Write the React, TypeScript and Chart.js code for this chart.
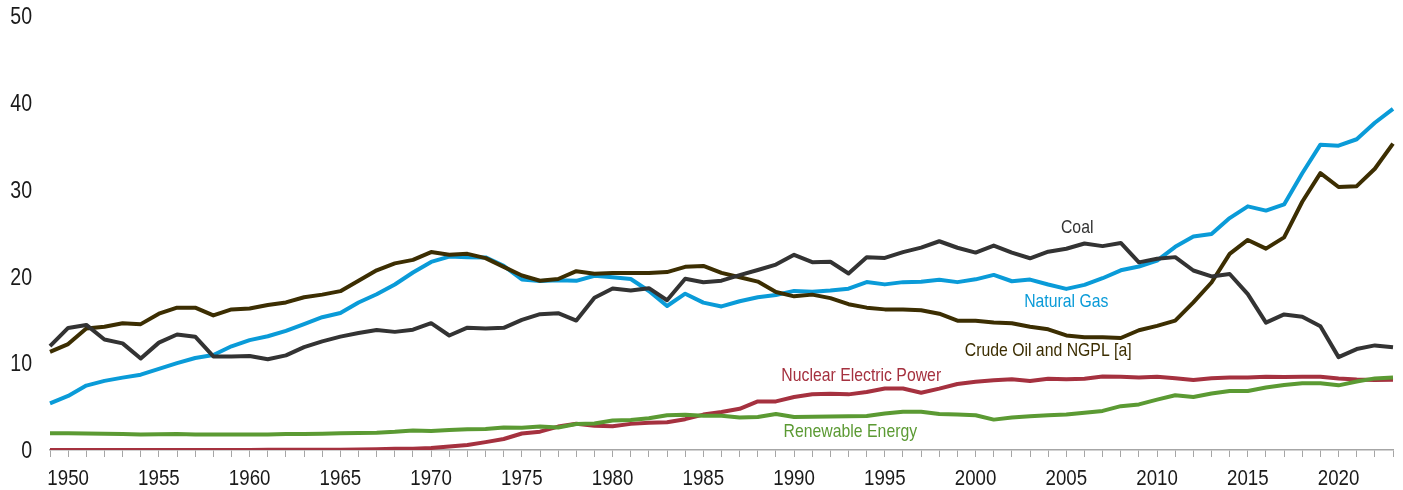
import React, { useEffect, useRef } from 'react';
import { Chart, registerables } from 'chart.js';

Chart.register(...registerables);

const years = [
  1949, 1950, 1951, 1952, 1953, 1954, 1955, 1956, 1957, 1958,
  1959, 1960, 1961, 1962, 1963, 1964, 1965, 1966, 1967, 1968,
  1969, 1970, 1971, 1972, 1973, 1974, 1975, 1976, 1977, 1978,
  1979, 1980, 1981, 1982, 1983, 1984, 1985, 1986, 1987, 1988,
  1989, 1990, 1991, 1992, 1993, 1994, 1995, 1996, 1997, 1998,
  1999, 2000, 2001, 2002, 2003, 2004, 2005, 2006, 2007, 2008,
  2009, 2010, 2011, 2012, 2013, 2014, 2015, 2016, 2017, 2018,
  2019, 2020, 2021, 2022, 2023,
];

const coal = [
  11.97, 14.06, 14.41, 12.73, 12.28, 10.54, 12.37, 13.31, 13.06, 10.78,
  10.78, 10.82, 10.45, 10.9, 11.85, 12.52, 13.06, 13.47, 13.83, 13.61,
  13.86, 14.61, 13.19, 14.09, 13.99, 14.07, 14.99, 15.65, 15.76, 14.91,
  17.54, 18.6, 18.38, 18.64, 17.25, 19.72, 19.33, 19.51, 20.14, 20.74,
  21.36, 22.49, 21.64, 21.69, 20.34, 22.2, 22.13, 22.79, 23.31, 24.05,
  23.3, 22.74, 23.55, 22.73, 22.09, 22.85, 23.19, 23.79, 23.49, 23.85,
  21.62, 22.04, 22.22, 20.68, 20.0, 20.28, 17.95, 14.67, 15.62, 15.36,
  14.26, 10.7, 11.63, 12.05, 11.83,
];

const naturalGas = [
  5.38, 6.23, 7.42, 7.96, 8.34, 8.68, 9.34, 10.0, 10.6, 10.94,
  11.95, 12.66, 13.1, 13.72, 14.51, 15.3, 15.78, 16.99, 17.94, 19.07,
  20.45, 21.67, 22.28, 22.21, 22.19, 21.21, 19.64, 19.48, 19.57, 19.49,
  20.08, 19.91, 19.7, 18.32, 16.59, 18.01, 16.98, 16.54, 17.14, 17.6,
  17.85, 18.33, 18.23, 18.38, 18.58, 19.35, 19.08, 19.34, 19.39, 19.61,
  19.34, 19.66, 20.17, 19.44, 19.63, 19.07, 18.56, 19.02, 19.79, 20.7,
  21.14, 21.81, 23.41, 24.59, 24.89, 26.72, 28.07, 27.58, 28.29, 31.88,
  35.18, 35.06, 35.8, 37.7, 39.3,
];

const crudeOilNgpl = [
  11.3, 12.2, 14.0, 14.2, 14.6, 14.5, 15.7, 16.4, 16.4, 15.5,
  16.2, 16.3, 16.7, 17.0, 17.6, 17.9, 18.3, 19.5, 20.7, 21.5,
  21.9, 22.8, 22.5, 22.6, 22.1, 21.1, 20.1, 19.5, 19.7, 20.6,
  20.3, 20.4, 20.4, 20.4, 20.5, 21.1, 21.2, 20.4, 19.9, 19.4,
  18.2, 17.7, 17.9, 17.5, 16.8, 16.4, 16.2, 16.2, 16.1, 15.7,
  14.9, 14.9, 14.7, 14.6, 14.2, 13.9, 13.2, 13.0, 13.0, 12.9,
  13.8, 14.3, 14.9, 17.0, 19.3, 22.6, 24.2, 23.2, 24.5, 28.6,
  31.9, 30.3, 30.4, 32.4, 35.3,
];

const nuclear = [
  0, 0, 0, 0, 0, 0, 0, 0, 0, 0,
  0, 0.01, 0.02, 0.03, 0.04, 0.04, 0.04, 0.06, 0.09, 0.14,
  0.15, 0.24, 0.41, 0.58, 0.91, 1.27, 1.9, 2.11, 2.7, 3.02,
  2.78, 2.74, 3.01, 3.13, 3.2, 3.55, 4.08, 4.38, 4.75, 5.59,
  5.6, 6.1, 6.42, 6.48, 6.41, 6.69, 7.08, 7.09, 6.6, 7.07,
  7.61, 7.86, 8.03, 8.14, 7.96, 8.22, 8.16, 8.21, 8.46, 8.43,
  8.36, 8.43, 8.27, 8.06, 8.27, 8.34, 8.34, 8.43, 8.42, 8.44,
  8.45, 8.25, 8.13, 8.06, 8.09,
];

const renewable = [
  1.92, 1.92, 1.9, 1.88, 1.84, 1.8, 1.82, 1.85, 1.8, 1.8,
  1.8, 1.8, 1.8, 1.85, 1.85, 1.88, 1.92, 1.95, 2.0, 2.1,
  2.25, 2.2, 2.3, 2.4, 2.42, 2.6, 2.55, 2.7, 2.6, 3.0,
  3.05, 3.4, 3.45, 3.65, 4.0, 4.05, 3.95, 3.95, 3.75, 3.8,
  4.15, 3.8, 3.82, 3.85, 3.9, 3.92, 4.2, 4.4, 4.4, 4.15,
  4.1, 4.0, 3.5, 3.75, 3.9, 4.0, 4.1, 4.3, 4.5, 5.05,
  5.25, 5.8, 6.3, 6.1, 6.5, 6.8, 6.8, 7.2, 7.5, 7.7,
  7.7, 7.45, 7.9, 8.25, 8.35,
];

const yTicks = [0, 10, 20, 30, 40, 50];

const COLORS = {
  coal: '#333333',
  gas: '#0a9bd8',
  oil: '#3c2e02',
  nuclear: '#a5313f',
  renewable: '#5b9a33',
};

// Series name labels, placed at (year, value) through the chart's scales
const seriesTextLabels = [
  { text: 'Coal', year: 2005.6, value: 25.6, color: COLORS.coal },
  { text: 'Natural Gas', year: 2005.0, value: 17.1, color: COLORS.gas },
  { text: 'Crude Oil and NGPL [a]', year: 2004.0, value: 11.4, color: COLORS.oil },
  { text: 'Nuclear Electric Power', year: 1993.7, value: 8.5, color: COLORS.nuclear },
  { text: 'Renewable Energy', year: 1993.1, value: 2.1, color: COLORS.renewable },
];

const FONT = '"Liberation Sans", Arial, Helvetica, sans-serif';
const CONDENSE = 0.85;
const TICK_COLOR = '#1a1a1a';

function drawCondensed(ctx: CanvasRenderingContext2D, text: string, x: number, y: number, align: CanvasTextAlign) {
  ctx.save();
  ctx.translate(x, y);
  ctx.scale(CONDENSE, 1);
  ctx.textAlign = align;
  ctx.fillText(text, 0, 0);
  ctx.restore();
}

const textPlugin = {
  id: 'condensedText',
  afterDraw(chart: any) {
    const { ctx, scales, chartArea } = chart;
    const x = scales.x;
    const y = scales.y;
    ctx.save();
    // tick labels
    ctx.fillStyle = TICK_COLOR;
    ctx.textBaseline = 'alphabetic';
    ctx.font = `22px ${FONT}`;
    x.ticks.forEach((t: any, i: number) => {
      const yr = years[t.value];
      if (yr % 5 === 0) drawCondensed(ctx, String(yr), x.getPixelForTick(i), chartArea.bottom + 35, 'center');
    });
    ctx.font = `23px ${FONT}`;
    y.ticks.forEach((t: any) => {
      drawCondensed(ctx, String(t.value), chartArea.left - 18, y.getPixelForValue(t.value) + 8.2, 'right');
    });
    // series labels
    ctx.font = `18.6px ${FONT}`;
    ctx.textBaseline = 'middle';
    for (const l of seriesTextLabels) {
      ctx.fillStyle = l.color;
      drawCondensed(ctx, l.text, x.getPixelForValue(l.year - years[0]), y.getPixelForValue(l.value), 'center');
    }
    ctx.restore();
  },
};

export default function App() {
  const canvasRef = useRef<HTMLCanvasElement | null>(null);

  useEffect(() => {
    const canvas = canvasRef.current;
    if (!canvas) return;
    const mk = (label: string, data: number[], color: string) => ({
      label,
      data,
      borderColor: color,
      backgroundColor: color,
      borderWidth: 4,
      pointRadius: 0,
      tension: 0,
      fill: false,
      borderJoinStyle: 'round' as const,
      borderCapStyle: 'butt' as const,
    });
    const chart = new Chart(canvas, {
      type: 'line',
      data: {
        labels: years.map(String),
        datasets: [
          mk('Coal', coal, COLORS.coal),
          mk('Crude Oil and NGPL [a]', crudeOilNgpl, COLORS.oil),
          mk('Natural Gas', naturalGas, COLORS.gas),
          mk('Renewable Energy', renewable, COLORS.renewable),
          mk('Nuclear Electric Power', nuclear, COLORS.nuclear),
        ],
      },
      options: {
        responsive: false,
        animation: false,
        events: [],
        layout: { padding: { top: 16, right: 10, left: 0, bottom: 0 } },
        plugins: {
          legend: { display: false },
          tooltip: { enabled: false },
          title: { display: false },
        },
        scales: {
          x: {
            type: 'category',
            offset: false,
            grid: {
              display: true,
              drawOnChartArea: false,
              drawTicks: true,
              tickLength: 7,
              color: '#a6a6a6',
              lineWidth: 1,
            },
            border: { display: true, color: '#a6a6a6', width: 1.5 },
            ticks: {
              display: false,
              autoSkip: false,
              maxRotation: 0,
              minRotation: 0,
            },
            afterFit: (s: any) => {
              s.height = 40;
              s.paddingLeft = 0;
              s.paddingRight = 0;
            },
          },
          y: {
            min: 0,
            max: 50,
            grid: { display: false, drawTicks: false },
            border: { display: false },
            afterBuildTicks: (s: any) => {
              s.ticks = yTicks.map((v) => ({ value: v }));
            },
            ticks: { display: false },
            afterFit: (s: any) => {
              s.width = 50;
              s.paddingTop = 0;
              s.paddingBottom = 0;
            },
          },
        },
      },
      plugins: [textPlugin],
    });
    return () => chart.destroy();
  }, []);

  return (
    <div style={{ position: 'fixed', left: 0, top: 0, width: 1403, height: 490, background: '#fff' }}>
      <canvas ref={canvasRef} width={1403} height={490} />
    </div>
  );
}
